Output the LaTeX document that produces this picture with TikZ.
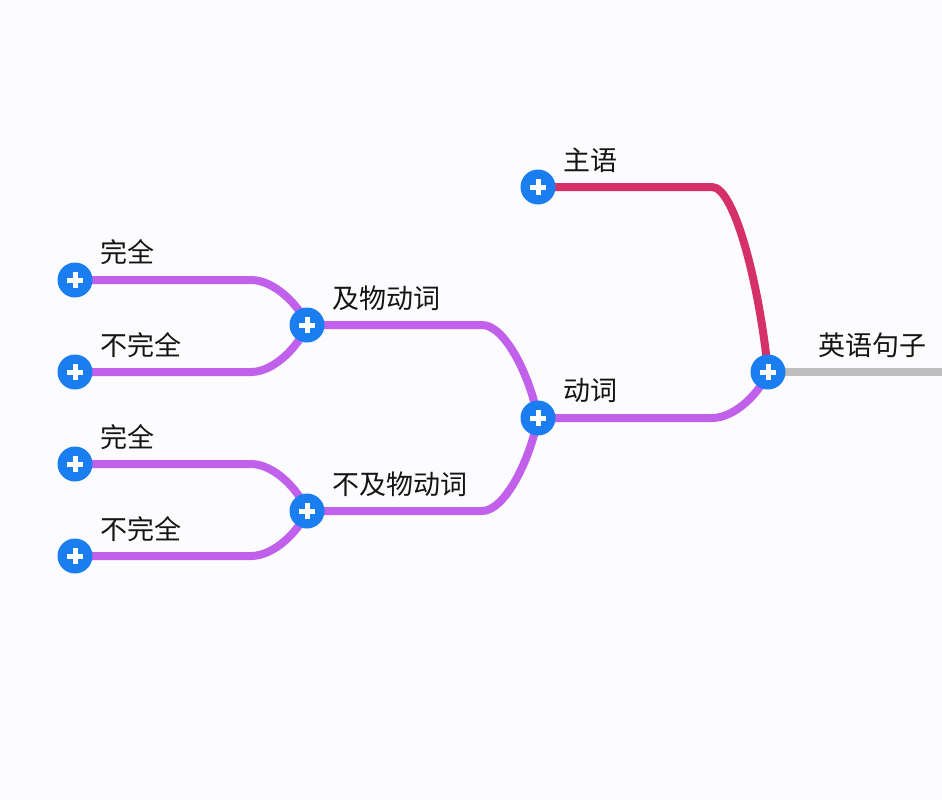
\documentclass[tikz,border=0pt]{standalone}
\usepackage{fontspec}
\newfontfamily\cjk{Noto Sans CJK SC}
\usetikzlibrary{calc}
\definecolor{bgcol}{RGB}{252,251,253}
\definecolor{purp}{RGB}{193,96,235}
\definecolor{redc}{RGB}{214,48,104}
\definecolor{grayc}{RGB}{190,190,190}
\definecolor{bluec}{RGB}{26,125,240}
\definecolor{txt}{RGB}{20,20,20}
\pgfdeclarelayer{bglayer}
\pgfdeclarelayer{edgelayer}
\pgfsetlayers{bglayer,edgelayer,main}
\tikzset{
  plusnode/.style={circle, fill=bluec, minimum size=35pt, inner sep=0pt},
  conn/.style={line width=8pt, line cap=round,
    to path={-- ($(\tikztotarget |- \tikztostart)+(-56,0)$)
      .. controls ($(\tikztotarget |- \tikztostart)+(-33,0)$)
      and ($(\tikztotarget)!0.45!(\tikztotarget |- \tikztostart)+(-8,0)$)
      .. (\tikztotarget)}},
  lbl/.style={anchor=west, inner sep=0pt, text=txt, font=\cjk\fontsize{27}{31}\selectfont},
}
\begin{document}
\begin{tikzpicture}[x=1pt,y=-1pt]
\begin{pgfonlayer}{bglayer}
\fill[bgcol] (0,0) rectangle (942,800);
\end{pgfonlayer}
\useasboundingbox (0,0) rectangle (942,800);
% nodes
\node[plusnode] (root) at (768,372) {};
\node[plusnode] (subj) at (538,187) {};
\node[plusnode] (verb) at (538,418) {};
\node[plusnode] (tr) at (307,325) {};
\node[plusnode] (intr) at (307,511) {};
\node[plusnode] (tr1) at (75,280) {};
\node[plusnode] (tr2) at (75,372) {};
\node[plusnode] (in1) at (75,464) {};
\node[plusnode] (in2) at (75,556) {};
\coordinate (rightend) at (942,372);
% plus signs
\foreach \n in {root,subj,verb,tr,intr,tr1,tr2,in1,in2}{
  \draw[white, line width=5pt] ([xshift=-8pt]\n.center) -- ([xshift=8pt]\n.center);
  \draw[white, line width=5pt] ([yshift=-8pt]\n.center) -- ([yshift=8pt]\n.center);
}
% labels
\node[lbl] (lroot) at ($(root.center)+(50,-27)$) {英语句子};
\node[lbl] (lsubj) at ($(subj.center)+(25,-27)$) {主语};
\node[lbl] (lverb) at ($(verb.center)+(25,-28)$) {动词};
\node[lbl] (ltr) at ($(tr.center)+(25,-27)$) {及物动词};
\node[lbl] (lintr) at ($(intr.center)+(25,-27)$) {不及物动词};
\node[lbl] (ltr1) at ($(tr1.center)+(25,-28)$) {完全};
\node[lbl] (ltr2) at ($(tr2.center)+(25,-27)$) {不完全};
\node[lbl] (lin1) at ($(in1.center)+(25,-27)$) {完全};
\node[lbl] (lin2) at ($(in2.center)+(25,-27)$) {不完全};
% connectors
\begin{pgfonlayer}{edgelayer}
\draw[line width=8pt, grayc] (root.center) -- (rightend);
\draw[conn, redc] (subj.center) to (root.center);
\draw[conn, purp] (verb.center) to (root.center);
\draw[conn, purp] (tr.center) to (verb.center);
\draw[conn, purp] (intr.center) to (verb.center);
\draw[conn, purp] (tr1.center) to (tr.center);
\draw[conn, purp] (tr2.center) to (tr.center);
\draw[conn, purp] (in1.center) to (intr.center);
\draw[conn, purp] (in2.center) to (intr.center);
\end{pgfonlayer}
\end{tikzpicture}
\end{document}
